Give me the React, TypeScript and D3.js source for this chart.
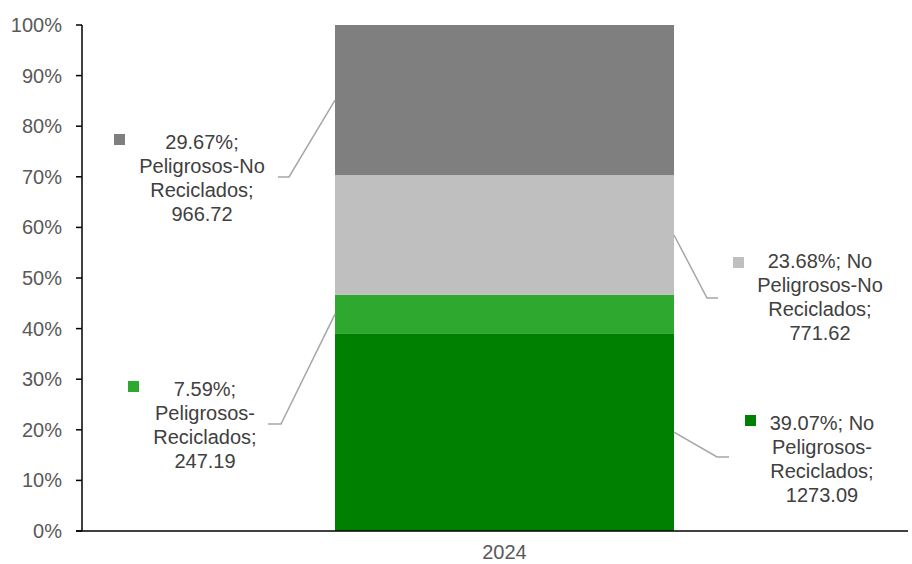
import React from "react";
import * as d3 from "d3";

const categories = ["2024"];
const seriesNames = [
  "No Peligrosos-Reciclados",
  "Peligrosos-Reciclados",
  "No Peligrosos-No Reciclados",
  "Peligrosos-No Reciclados",
];
const percentValues = [39.07, 7.59, 23.68, 29.67];
const absoluteValues = [1273.09, 247.19, 771.62, 966.72];
const yTickValues = [0, 10, 20, 30, 40, 50, 60, 70, 80, 90, 100];
const labelLines = [
  ["39.07%; No", "Peligrosos-", "Reciclados;", "1273.09"],
  ["7.59%;", "Peligrosos-", "Reciclados;", "247.19"],
  ["23.68%; No", "Peligrosos-No", "Reciclados;", "771.62"],
  ["29.67%;", "Peligrosos-No", "Reciclados;", "966.72"],
];

const colors = ["#008000", "#2EA82E", "#BFBFBF", "#7F7F7F"];

// label layout (positions only)
const labelLayout = [
  { mx: 745, my: 415, cx: 822, by: 430, ex: 717, ey: 457, tx: 729, side: "right" },
  { mx: 128, my: 381, cx: 205, by: 396, ex: 281, ey: 424, tx: 268, side: "left" },
  { mx: 733, my: 257, cx: 820, by: 268, ex: 707, ey: 298, tx: 718, side: "right" },
  { mx: 114, my: 134, cx: 202, by: 149, ex: 289, ey: 177, tx: 278, side: "left" },
];

const W = 912;
const H = 564;
const plotLeft = 82;
const plotRight = 908;
const plotTop = 25;
const plotBottom = 531;
const FONT = "'Liberation Sans', Arial, sans-serif";

export default function App() {
  const y = d3.scaleLinear().domain([0, 100]).range([plotBottom, plotTop]);
  const x = d3
    .scaleBand<string>()
    .domain(categories)
    .range([165.5, 843.5])
    .paddingInner(0.5)
    .paddingOuter(0.25);

  const stacked: { y0: number; y1: number }[] = [];
  let acc = 0;
  percentValues.forEach((v) => {
    stacked.push({ y0: acc, y1: acc + v });
    acc += v;
  });

  const bx = x(categories[0]) as number;
  const bw = x.bandwidth();

  return (
    <svg
      width={W}
      height={H}
      style={{ position: "absolute", left: 0, top: 0, background: "#fff" }}
      fontFamily={FONT}
    >
      {/* bars */}
      {stacked.map((s, i) => (
        <rect
          key={seriesNames[i]}
          x={bx}
          y={y(Math.min(s.y1, 100))}
          width={bw}
          height={y(s.y0) - y(Math.min(s.y1, 100))}
          fill={colors[i]}
        />
      ))}

      {/* y axis */}
      <line x1={plotLeft} x2={plotLeft} y1={plotTop} y2={plotBottom} stroke="#000" strokeWidth={1.5} />
      {yTickValues.map((t) => (
        <g key={t}>
          <line x1={plotLeft - 6} x2={plotLeft} y1={y(t)} y2={y(t)} stroke="#000" strokeWidth={1.5} />
          <text
            x={62}
            y={y(t)}
            dy="0.35em"
            textAnchor="end"
            fontSize={20}
            fill="#595959"
          >
            {t}%
          </text>
        </g>
      ))}

      {/* x axis */}
      <line x1={plotLeft - 6} x2={plotRight} y1={plotBottom} y2={plotBottom} stroke="#000" strokeWidth={1.5} />
      {categories.map((c) => (
        <text
          key={c}
          x={(x(c) as number) + bw / 2}
          y={559}
          textAnchor="middle"
          fontSize={20}
          fill="#595959"
        >
          {c}
        </text>
      ))}

      {/* data labels with leader lines */}
      {stacked.map((s, i) => {
        const L = labelLayout[i];
        const sx = L.side === "left" ? bx : bx + bw;
        const sy = y((s.y0 + Math.min(s.y1, 100)) / 2);
        return (
          <g key={"lbl" + i}>
            <polyline
              points={`${sx},${sy} ${L.ex},${L.ey} ${L.tx},${L.ey}`}
              fill="none"
              stroke="#A6A6A6"
              strokeWidth={1.5}
            />
            <rect x={L.mx} y={L.my} width={11} height={11} fill={colors[i]} />
            {labelLines[i].map((ln, j) => (
              <text
                key={j}
                x={L.cx}
                y={L.by + j * 24}
                textAnchor="middle"
                fontSize={20}
                fill="#404040"
              >
                {ln}
              </text>
            ))}
          </g>
        );
      })}
    </svg>
  );
}
